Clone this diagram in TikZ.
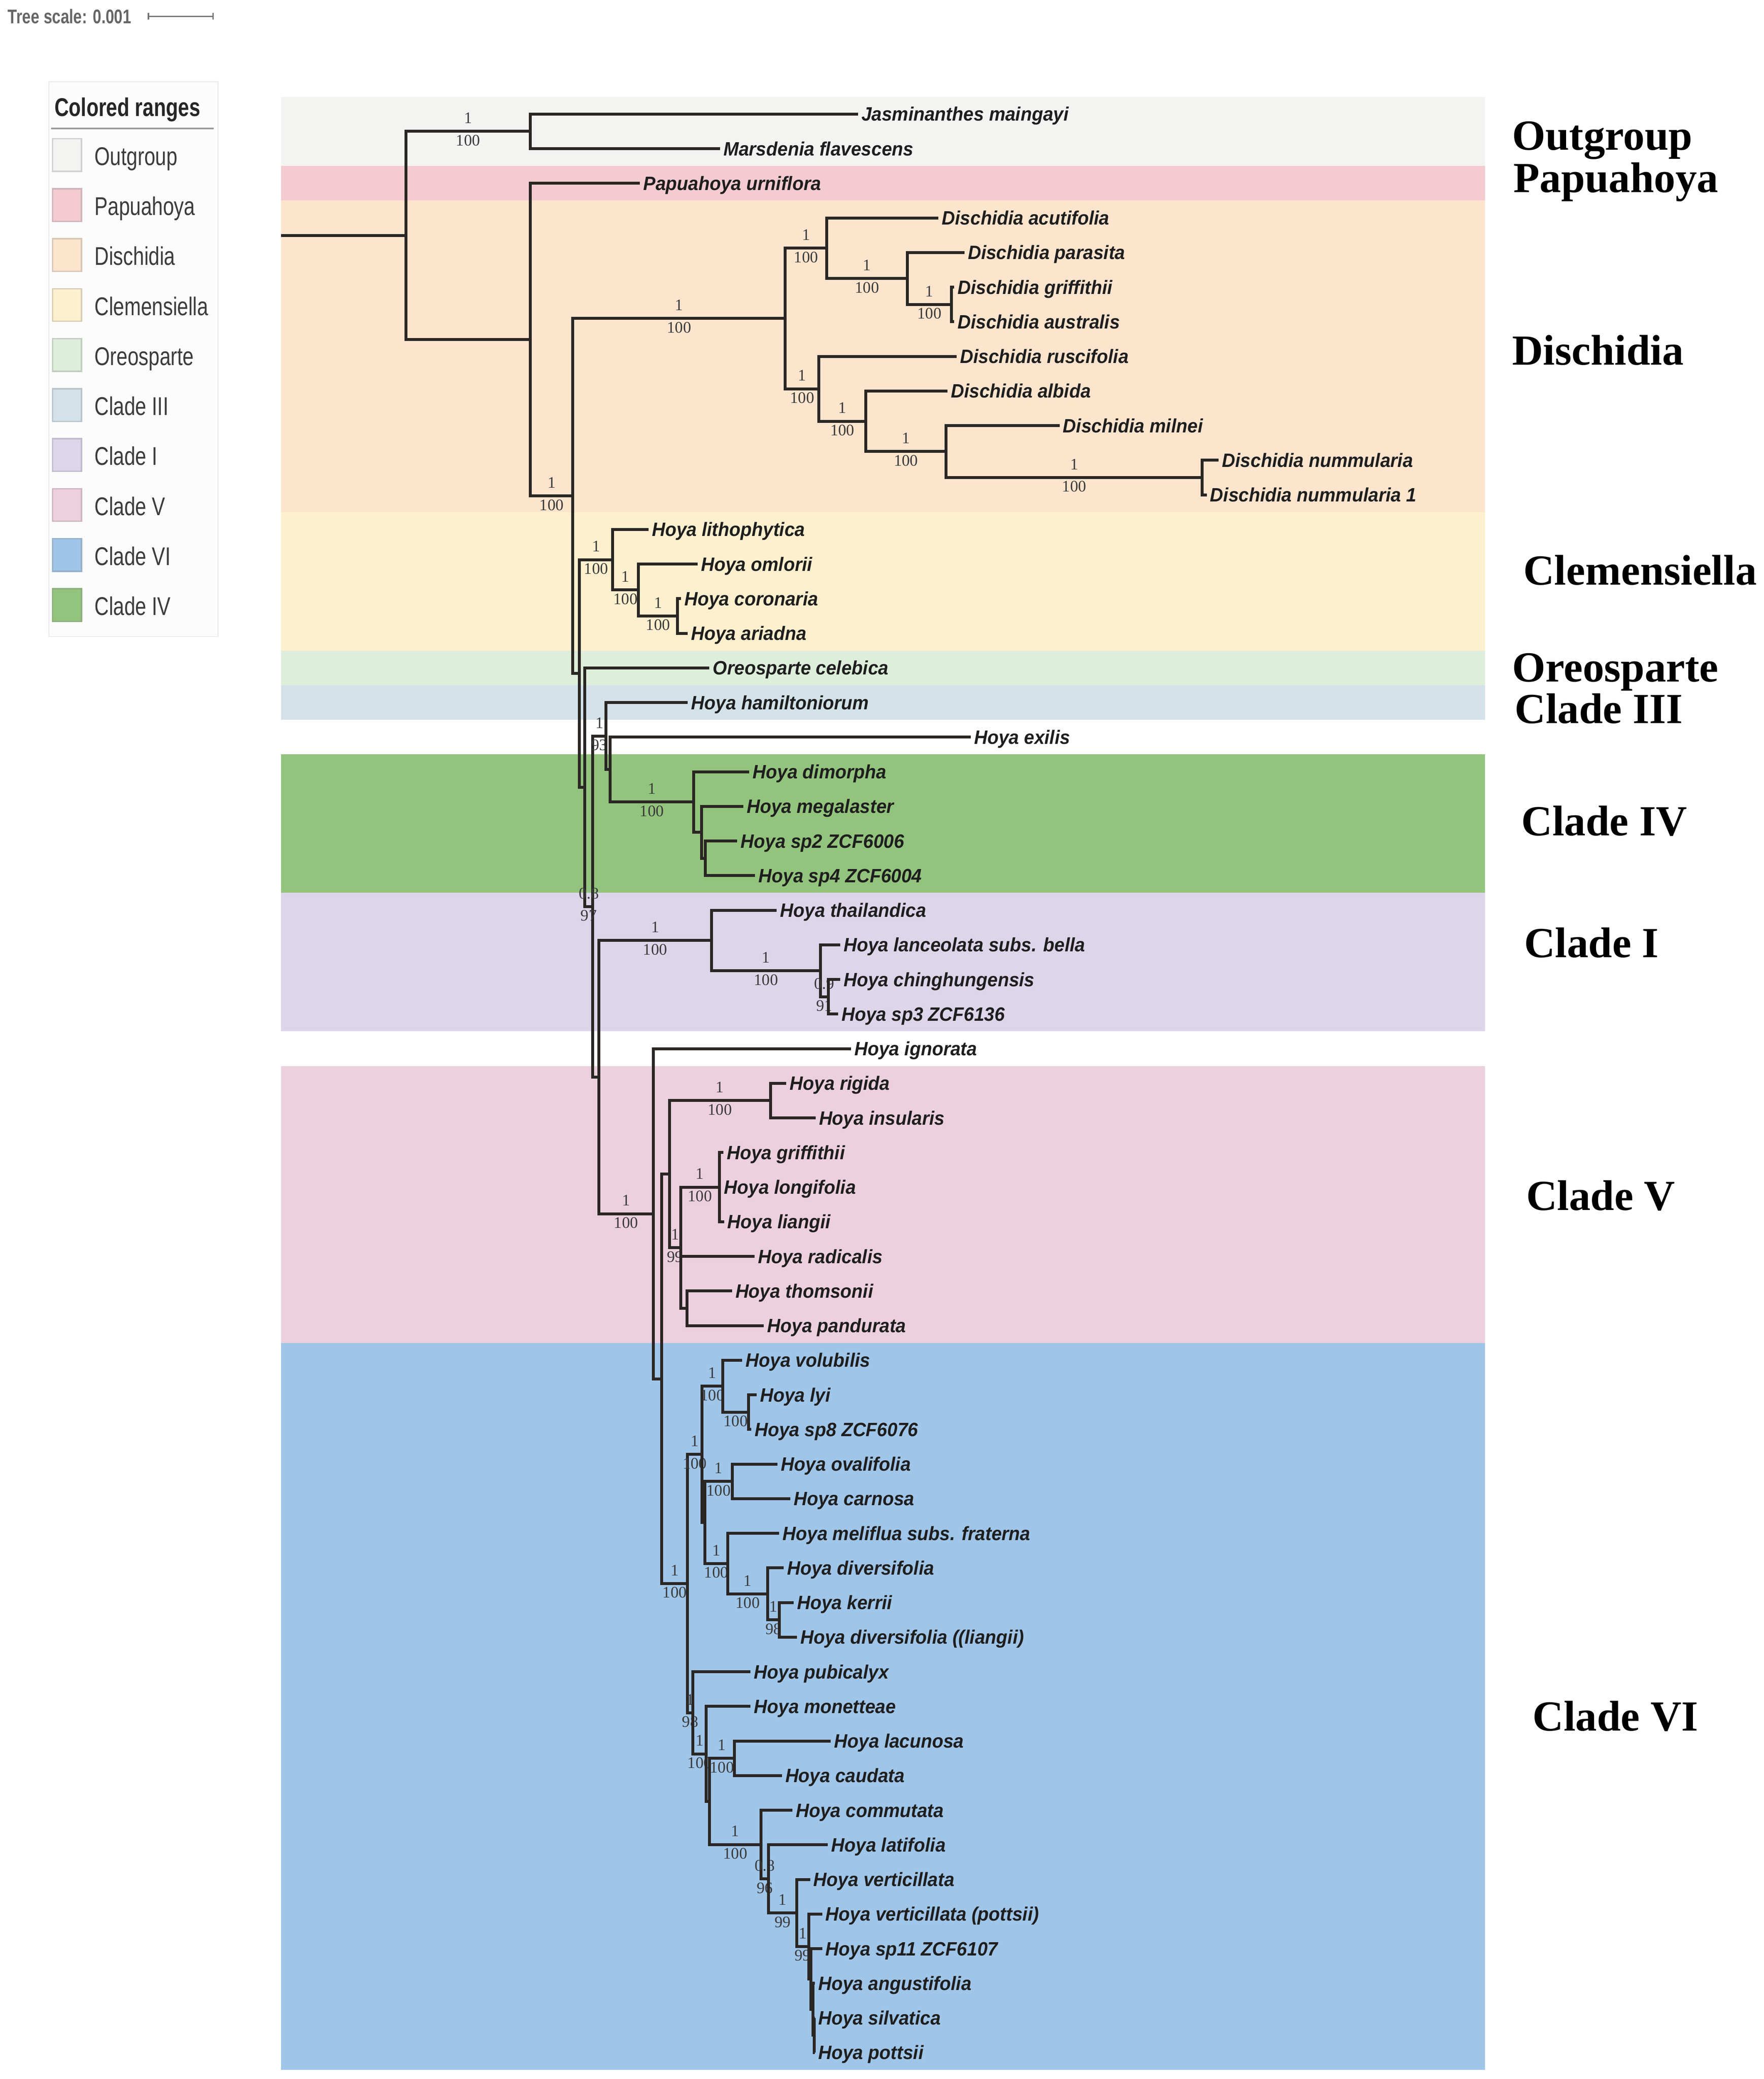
\documentclass[tikz,border=0pt]{standalone}
\usepackage{fontspec}
\usetikzlibrary{calc}
\newfontfamily\tipfont[FakeStretch=0.95]{Liberation Sans}
\newfontfamily\supfont{Liberation Serif}
\newfontfamily\cladefont{Liberation Serif}
\newfontfamily\legfont[FakeStretch=0.775]{Liberation Sans}
\definecolor{cOut}{HTML}{F3F3F2}
\definecolor{cPap}{HTML}{F3CBD0}
\definecolor{cDis}{HTML}{FCE4CD}
\definecolor{cCle}{HTML}{FEF0CE}
\definecolor{cOre}{HTML}{DDEEDA}
\definecolor{cIII}{HTML}{D2E2E8}
\definecolor{cIV}{HTML}{93C47D}
\definecolor{cI}{HTML}{DDD5EA}
\definecolor{cV}{HTML}{ECD0DD}
\definecolor{cVI}{HTML}{9FC5E8}
\definecolor{brc}{HTML}{2A2624}
\definecolor{tipc}{HTML}{1E1E1E}
\definecolor{supc}{HTML}{3A3A3A}
\definecolor{legtxt}{HTML}{3C3C3C}
\definecolor{legbg}{HTML}{FCFCFC}
\definecolor{legbd}{HTML}{EDEDED}
\tikzset{
  branch/.style={line width=1.25pt, draw=brc, line cap=square},
  tip/.style={anchor=west, font={\fontsize{8.3pt}{9pt}\tipfont\bfseries\itshape}, text=tipc,
    inner xsep=1.3pt, inner ysep=0pt, text height=5.95pt, text depth=0pt},
  supa/.style={anchor=base, yshift=0.12cm, inner sep=0pt, font={\fontsize{6.9pt}{7pt}\supfont}, text=supc},
  supb/.style={anchor=base, yshift=-0.216cm, inner sep=0pt, font={\fontsize{6.9pt}{7pt}\supfont}, text=supc},
  clade/.style={anchor=base west, inner sep=0pt, text depth=0pt, font={\fontsize{18.4pt}{20pt}\cladefont\bfseries}, text=black},
  legtext/.style={anchor=base west, inner sep=0pt, font={\fontsize{11pt}{12pt}\legfont}, text=legtxt},
  legtitle/.style={anchor=base west, inner sep=0pt, font={\fontsize{11pt}{12pt}\legfont\bfseries}, text=black!85},
  swatch/.style={draw=#1!70!gray, fill=#1, line width=0.6pt, minimum width=0.436cm, minimum height=0.492cm, inner sep=0pt},
}
\newcommand\iedge[2]{\draw[branch] (#1) |- (#2);}
\newcommand\tedge[2]{\draw[branch] (#1) |- (#2.west);}
\newcommand\sedge[4]{\draw[branch] (#1) |- (#2) node[pos=0.75,supa]{#3} node[pos=0.75,supb]{#4};}
\begin{document}
\begin{tikzpicture}[x=0.02cm,y=-0.02cm]
\useasboundingbox (0,0) rectangle (1330,1567.6);
\fill[white] (0,0) rectangle (1330,1567.6);
% ---------- coloured ranges
\fill[cOut] (212,72.95) rectangle (1120,125.15);
\fill[cPap] (212,125.15) rectangle (1120,151.25);
\fill[cDis] (212,151.25) rectangle (1120,386.15);
\fill[cCle] (212,386.15) rectangle (1120,490.55);
\fill[cOre] (212,490.55) rectangle (1120,516.65);
\fill[cIII] (212,516.65) rectangle (1120,542.75);
\fill[cIV] (212,568.85) rectangle (1120,673.25);
\fill[cI] (212,673.25) rectangle (1120,777.65);
\fill[cV] (212,803.75) rectangle (1120,1012.55);
\fill[cVI] (212,1012.55) rectangle (1120,1560.65);
% ---------- internal nodes
\coordinate (nRoot) at (212,177.58);
\coordinate (nA) at (306,177.58);
\coordinate (nOG) at (400,99.05);
\coordinate (nB) at (400,256.1);
\coordinate (nC) at (432,373.99);
\coordinate (nDA) at (592.2,240.16);
\coordinate (nDB) at (623.5,187.14);
\coordinate (nDC) at (684.2,209.98);
\coordinate (nDD) at (717.5,229.55);
\coordinate (nDE) at (617.6,293.17);
\coordinate (nDF) at (652.9,317.64);
\coordinate (nDG) at (713.5,340.48);
\coordinate (nDH) at (906.6,360.05);
\coordinate (nD) at (437,507.82);
\coordinate (nCE) at (462,422.04);
\coordinate (nCF) at (481.4,444.88);
\coordinate (nCG) at (511,464.45);
\coordinate (nH) at (441,593.59);
\coordinate (nI) at (447,683.58);
\coordinate (nJ3) at (457,554.99);
\coordinate (nJ4) at (460,580.27);
\coordinate (nK4) at (523,604.74);
\coordinate (nK5) at (529,627.58);
\coordinate (nK6) at (532,647.15);
\coordinate (nI2) at (451.5,812.16);
\coordinate (nCI) at (536.6,709.14);
\coordinate (nCI2) at (618.6,731.98);
\coordinate (nCI3) at (624.6,751.55);
\coordinate (nJ) at (492.7,915.18);
\coordinate (nK) at (499,1039.65);
\coordinate (nL) at (504.8,885.3);
\coordinate (nM) at (581,829.85);
\coordinate (nN) at (513.3,940.78);
\coordinate (nO) at (542.4,895.1);
\coordinate (nP) at (518,986.45);
\coordinate (nQ) at (518.5,1194.0);
\coordinate (nR) at (529.4,1096.56);
\coordinate (nS) at (545,1045.18);
\coordinate (nT) at (564.5,1064.75);
\coordinate (nR2) at (531.5,1147.95);
\coordinate (nU) at (552.4,1116.95);
\coordinate (nV) at (548.8,1178.94);
\coordinate (nW) at (579,1201.78);
\coordinate (nX) at (587.6,1221.35);
\coordinate (nZ) at (522.5,1291.47);
\coordinate (nY1) at (532.6,1322.44);
\coordinate (nY2) at (535,1358.28);
\coordinate (nLac) at (553.8,1325.75);
\coordinate (nAA) at (574,1390.8);
\coordinate (nAB) at (579.5,1416.7);
\coordinate (nAC) at (600.8,1442.39);
\coordinate (nAD) at (609.8,1467.67);
\coordinate (nAE) at (611.5,1492.14);
\coordinate (nAF) at (613,1514.98);
\coordinate (nAG) at (614,1534.55);
% ---------- tips
\node[tip] (t0) at (647,86.0) {Jasminanthes maingayi};
\node[tip] (t1) at (543,112.1) {Marsdenia flavescens};
\node[tip] (t2) at (482.6,138.2) {Papuahoya urniflora};
\node[tip] (t3) at (707.7,164.3) {Dischidia acutifolia};
\node[tip] (t4) at (727.3,190.4) {Dischidia parasita};
\node[tip] (t5) at (719.5,216.5) {Dischidia griffithii};
\node[tip] (t6) at (719.5,242.6) {Dischidia australis};
\node[tip] (t7) at (721.4,268.7) {Dischidia ruscifolia};
\node[tip] (t8) at (714.5,294.8) {Dischidia albida};
\node[tip] (t9) at (799,320.9) {Dischidia milnei};
\node[tip] (t10) at (919,347.0) {Dischidia nummularia};
\node[tip] (t11) at (910,373.1) {Dischidia nummularia 1};
\node[tip] (t12) at (489,399.2) {Hoya lithophytica};
\node[tip] (t13) at (526,425.3) {Hoya omlorii};
\node[tip] (t14) at (513.5,451.4) {Hoya coronaria};
\node[tip] (t15) at (518.5,477.5) {Hoya ariadna};
\node[tip] (t16) at (535,503.6) {Oreosparte celebica};
\node[tip] (t17) at (518.7,529.7) {Hoya hamiltoniorum};
\node[tip] (t18) at (732,555.8) {Hoya exilis};
\node[tip] (t19) at (565,581.9) {Hoya dimorpha};
\node[tip] (t20) at (560.5,608.0) {Hoya megalaster};
\node[tip] (t21) at (556,634.1) {Hoya sp2 ZCF6006};
\node[tip] (t22) at (569.4,660.2) {Hoya sp4 ZCF6004};
\node[tip] (t23) at (585.8,686.3) {Hoya thailandica};
\node[tip] (t24) at (633.6,712.4) {Hoya lanceolata subs. bella};
\node[tip] (t25) at (633.6,738.5) {Hoya chinghungensis};
\node[tip] (t26) at (632,764.6) {Hoya sp3 ZCF6136};
\node[tip] (t27) at (641.8,790.7) {Hoya ignorata};
\node[tip] (t28) at (593,816.8) {Hoya rigida};
\node[tip] (t29) at (615,842.9) {Hoya insularis};
\node[tip] (t30) at (545.5,869.0) {Hoya griffithii};
\node[tip] (t31) at (543.5,895.1) {Hoya longifolia};
\node[tip] (t32) at (546,921.2) {Hoya liangii};
\node[tip] (t33) at (569,947.3) {Hoya radicalis};
\node[tip] (t34) at (552,973.4) {Hoya thomsonii};
\node[tip] (t35) at (576,999.5) {Hoya pandurata};
\node[tip] (t36) at (559.7,1025.6) {Hoya volubilis};
\node[tip] (t37) at (570.6,1051.7) {Hoya lyi};
\node[tip] (t38) at (566.5,1077.8) {Hoya sp8 ZCF6076};
\node[tip] (t39) at (586.4,1103.9) {Hoya ovalifolia};
\node[tip] (t40) at (596,1130.0) {Hoya carnosa};
\node[tip] (t41) at (587.6,1156.1) {Hoya meliflua subs. fraterna};
\node[tip] (t42) at (591,1182.2) {Hoya diversifolia};
\node[tip] (t43) at (598.5,1208.3) {Hoya kerrii};
\node[tip] (t44) at (601,1234.4) {Hoya diversifolia ((liangii)};
\node[tip] (t45) at (566,1260.5) {Hoya pubicalyx};
\node[tip] (t46) at (566,1286.6) {Hoya monetteae};
\node[tip] (t47) at (626.5,1312.7) {Hoya lacunosa};
\node[tip] (t48) at (589.6,1338.8) {Hoya caudata};
\node[tip] (t49) at (597.5,1364.9) {Hoya commutata};
\node[tip] (t50) at (624.3,1391.0) {Hoya latifolia};
\node[tip] (t51) at (610.9,1417.1) {Hoya verticillata};
\node[tip] (t52) at (620,1443.2) {Hoya verticillata (pottsii)};
\node[tip] (t53) at (620,1469.3) {Hoya sp11 ZCF6107};
\node[tip] (t54) at (614.5,1495.4) {Hoya angustifolia};
\node[tip] (t55) at (614.5,1521.5) {Hoya silvatica};
\node[tip] (t56) at (614.5,1547.6) {Hoya pottsii};
% ---------- internal branches
\draw[branch] (nRoot) -- (nA);
\sedge{nA}{nOG}{1}{100}
\iedge{nA}{nB}
\sedge{nB}{nC}{1}{100}
\sedge{nC}{nDA}{1}{100}
\sedge{nDA}{nDB}{1}{100}
\sedge{nDB}{nDC}{1}{100}
\sedge{nDC}{nDD}{1}{100}
\sedge{nDA}{nDE}{1}{100}
\sedge{nDE}{nDF}{1}{100}
\sedge{nDF}{nDG}{1}{100}
\sedge{nDG}{nDH}{1}{100}
\iedge{nC}{nD}
\sedge{nD}{nCE}{1}{100}
\sedge{nCE}{nCF}{1}{100}
\sedge{nCF}{nCG}{1}{100}
\iedge{nD}{nH}
\iedge{nI}{nI2}
\sedge{nI}{nJ3}{1}{93}
\iedge{nJ3}{nJ4}
\sedge{nJ4}{nK4}{1}{100}
\iedge{nK4}{nK5}
\iedge{nK5}{nK6}
\sedge{nI2}{nCI}{1}{100}
\sedge{nCI}{nCI2}{1}{100}
\sedge{nCI2}{nCI3}{0.9}{91}
\sedge{nI2}{nJ}{1}{100}
\iedge{nJ}{nK}
\iedge{nK}{nL}
\sedge{nL}{nM}{1}{100}
\sedge{nL}{nN}{1}{99}
\sedge{nN}{nO}{1}{100}
\iedge{nN}{nP}
\sedge{nK}{nQ}{1}{100}
\sedge{nQ}{nR}{1}{100}
\sedge{nR}{nS}{1}{100}
\sedge{nS}{nT}{}{100}
\iedge{nR}{nR2}
\sedge{nR2}{nU}{1}{100}
\sedge{nR2}{nV}{1}{100}
\sedge{nV}{nW}{1}{100}
\sedge{nW}{nX}{1}{98}
\sedge{nQ}{nZ}{1}{98}
\sedge{nZ}{nY1}{1}{100}
\iedge{nY1}{nY2}
\sedge{nY2}{nLac}{1}{100}
\sedge{nY2}{nAA}{1}{100}
\sedge{nAA}{nAB}{0.8}{96}
\sedge{nAB}{nAC}{1}{99}
\sedge{nAC}{nAD}{1}{99}
\iedge{nAD}{nAE}
\iedge{nAE}{nAF}
\iedge{nAF}{nAG}
\sedge{nH}{nI}{0.8}{97}
% ---------- tip branches
\tedge{nOG}{t0} \tedge{nOG}{t1} \tedge{nB}{t2}
\tedge{nDB}{t3} \tedge{nDC}{t4} \tedge{nDD}{t5} \tedge{nDD}{t6}
\tedge{nDE}{t7} \tedge{nDF}{t8} \tedge{nDG}{t9} \tedge{nDH}{t10} \tedge{nDH}{t11}
\tedge{nCE}{t12} \tedge{nCF}{t13} \tedge{nCG}{t14} \tedge{nCG}{t15}
\tedge{nH}{t16} \tedge{nJ3}{t17} \tedge{nJ4}{t18}
\tedge{nK4}{t19} \tedge{nK5}{t20} \tedge{nK6}{t21} \tedge{nK6}{t22}
\tedge{nCI}{t23} \tedge{nCI2}{t24} \tedge{nCI3}{t25} \tedge{nCI3}{t26}
\tedge{nJ}{t27} \tedge{nM}{t28} \tedge{nM}{t29}
\tedge{nO}{t30} \tedge{nO}{t31} \tedge{nO}{t32} \tedge{nN}{t33}
\tedge{nP}{t34} \tedge{nP}{t35}
\tedge{nS}{t36} \tedge{nT}{t37} \tedge{nT}{t38}
\tedge{nU}{t39} \tedge{nU}{t40} \tedge{nV}{t41} \tedge{nW}{t42}
\tedge{nX}{t43} \tedge{nX}{t44}
\tedge{nZ}{t45} \tedge{nY1}{t46} \tedge{nLac}{t47} \tedge{nLac}{t48}
\tedge{nAA}{t49} \tedge{nAB}{t50} \tedge{nAC}{t51} \tedge{nAD}{t52}
\tedge{nAE}{t53} \tedge{nAF}{t54} \tedge{nAG}{t55} \tedge{nAG}{t56}
% ---------- clade labels
\node[clade] (lOut) at (1140,113) {Outgroup};
\node[clade] (lPap) at (1141,145) {Papuahoya};
\node[clade] (lDis) at (1140,275) {Dischidia};
\node[clade] (lCle) at (1148.5,441) {Clemensiella};
\node[clade] (lOre) at (1140,514) {Oreosparte};
\node[clade] (lC3) at (1142,545.5) {Clade III};
\node[clade] (lC4) at (1147,630) {Clade IV};
\node[clade] (lC1) at (1149,722) {Clade I};
\node[clade] (lC5) at (1150.6,912.5) {Clade V};
\node[clade] (lC6) at (1155.5,1305) {Clade VI};
% ---------- tree scale
\node[anchor=base west, inner sep=0pt, font={\fontsize{8.5pt}{9pt}\legfont\bfseries}, text=black!60] (tscale) at (5.6,17.8) {Tree scale: 0.001};
\draw[black!55, line width=0.6pt] (111.9,12.3) -- (160.6,12.3);
\draw[black!55, line width=0.6pt] (111.9,9.8) -- (111.9,14.8);
\draw[black!55, line width=0.6pt] (160.6,9.8) -- (160.6,14.8);
% ---------- legend
\draw[fill=legbg, draw=legbd, line width=0.5pt] (36.9,61.5) rectangle (164.5,480);
\node[legtitle] (legT) at (40.8,87.7) {Colored ranges};
\draw[black!40, line width=0.6pt] (38.6,96.9) -- (161,96.9);
\node[swatch=cOut] (s1) at (50.6,116.9) {};
\node[legtext] (e1) at (71,124.6) {Outgroup};
\node[swatch=cPap] (s2) at (50.6,154.6) {};
\node[legtext] (e2) at (71,162.3) {Papuahoya};
\node[swatch=cDis] (s3) at (50.6,192.3) {};
\node[legtext] (e3) at (71,200.0) {Dischidia};
\node[swatch=cCle] (s4) at (50.6,230.0) {};
\node[legtext] (e4) at (71,237.7) {Clemensiella};
\node[swatch=cOre] (s5) at (50.6,267.7) {};
\node[legtext] (e5) at (71,275.4) {Oreosparte};
\node[swatch=cIII] (s6) at (50.6,305.4) {};
\node[legtext] (e6) at (71,313.1) {Clade III};
\node[swatch=cI] (s7) at (50.6,343.1) {};
\node[legtext] (e7) at (71,350.8) {Clade I};
\node[swatch=cV] (s8) at (50.6,380.8) {};
\node[legtext] (e8) at (71,388.5) {Clade V};
\node[swatch=cVI] (s9) at (50.6,418.5) {};
\node[legtext] (e9) at (71,426.2) {Clade VI};
\node[swatch=cIV] (s10) at (50.6,456.2) {};
\node[legtext] (e10) at (71,463.9) {Clade IV};
\end{tikzpicture}
\end{document}
